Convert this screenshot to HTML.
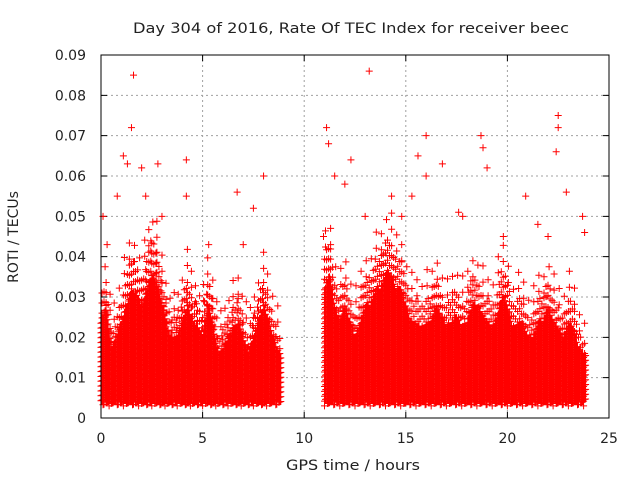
<!DOCTYPE html>
<html><head><meta charset="utf-8"><style>
body{margin:0;background:#fff}
svg{display:block;font-family:"DejaVu Sans","Liberation Sans",sans-serif}
</style></head><body>
<svg id="chart" width="640" height="480">
<rect width="640" height="480" fill="#fff"/>
<text x="351" y="33" font-size="14" text-anchor="middle" fill="#222" textLength="436" lengthAdjust="spacingAndGlyphs">Day 304 of 2016, Rate Of TEC Index for receiver beec</text>
<text x="353" y="470" font-size="14" text-anchor="middle" fill="#222" textLength="134" lengthAdjust="spacingAndGlyphs">GPS time / hours</text>
<text transform="translate(18,237) rotate(-90)" font-size="14" text-anchor="middle" fill="#222">ROTI / TECUs</text>
<g id="grid"></g>
<g id="axes"></g>
<path id="sparse" fill="none" stroke="#ff0000" stroke-width="1"/>
<path id="dense" fill="none" stroke="#ff0000" stroke-width="1"/>
<g id="outl"></g>
<rect x="101" y="55" width="508" height="363" fill="none" stroke="#000" stroke-width="1"/>
</svg>
<script>
const xTicks=[0,5,10,15,20,25];
const yTicks=[0,0.01,0.02,0.03,0.04,0.05,0.06,0.07,0.08,0.09];
const yTickLabels=["0","0.01","0.02","0.03","0.04","0.05","0.06","0.07","0.08","0.09"];
const segEnds=[8.9,23.9];
const binStart=[0,0.25,0.5,0.75,1,1.25,1.5,1.75,2,2.25,2.5,2.75,3,3.25,3.5,3.75,4,4.25,4.5,4.75,5,5.25,5.5,5.75,6,6.25,6.5,6.75,7,7.25,7.5,7.75,8,8.25,8.5,8.75,
11,11.25,11.5,11.75,12,12.25,12.5,12.75,13,13.25,13.5,13.75,14,14.25,14.5,14.75,15,15.25,15.5,15.75,16,16.25,16.5,16.75,17,17.25,17.5,17.75,18,18.25,18.5,18.75,19,19.25,19.5,19.75,20,20.25,20.5,20.75,21,21.25,21.5,21.75,22,22.25,22.5,22.75,23,23.25,23.5,23.75];
const binHigh=[0.03,0.035,0.022,0.025,0.03,0.035,0.04,0.038,0.035,0.04,0.045,0.042,0.035,0.028,0.025,0.025,0.03,0.035,0.03,0.028,0.025,0.035,0.03,0.02,0.022,0.025,0.028,0.03,0.025,0.02,0.025,0.03,0.035,0.03,0.025,0.02,
0.04,0.045,0.035,0.03,0.035,0.03,0.025,0.03,0.035,0.035,0.04,0.04,0.045,0.045,0.04,0.04,0.035,0.03,0.03,0.028,0.03,0.03,0.035,0.032,0.028,0.03,0.032,0.028,0.03,0.035,0.035,0.032,0.03,0.028,0.032,0.038,0.035,0.028,0.03,0.03,0.025,0.025,0.03,0.03,0.035,0.03,0.028,0.025,0.03,0.028,0.022,0.02];
const binLow=0.0042;
const outX=[1.6,1.5,1.1,1.3,2.0,2.8,4.2,4.2,6.7,7.5,8.0,7.0,0.1,0.8,11.1,11.2,11.5,12.3,13.2,13.0,14.3,15.6,16.0,16.0,16.8,17.6,18.7,18.8,19.0,20.9,22.5,22.5,22.4,22.9,23.7,23.8,14.8,15.3,21.5,22.0,5.3,3.0,2.2,0.3,12.0,17.8,19.8,10.95];
const outY=[0.085,0.072,0.065,0.063,0.062,0.063,0.064,0.055,0.056,0.052,0.06,0.043,0.05,0.055,0.072,0.068,0.06,0.064,0.086,0.05,0.055,0.065,0.07,0.06,0.063,0.051,0.07,0.067,0.062,0.055,0.075,0.072,0.066,0.056,0.05,0.046,0.05,0.055,0.048,0.045,0.043,0.05,0.055,0.043,0.058,0.05,0.045,0.045];

const X=v=>101+v*508/25, Y=v=>418-v*363/0.09;
const NS="http://www.w3.org/2000/svg";
const grid=document.getElementById('grid'), axes=document.getElementById('axes');
function mk(tag,attrs,parent){const e=document.createElementNS(NS,tag);for(const k in attrs)e.setAttribute(k,attrs[k]);parent.appendChild(e);return e;}
xTicks.forEach(t=>{
  const x=X(t);
  if(t>0&&t<25){const g=mk('line',{x1:x,y1:55,x2:x,y2:418,stroke:'#a0a0a0','stroke-dasharray':'2,3'},grid);
  
  }
  const tk=mk('path',{d:`M${x} 418v-6M${x} 55v6`,stroke:'#000'},axes);
  
  
  const l=mk('text',{x:x,y:443,'font-size':14,'text-anchor':'middle',fill:'#222'},axes);l.textContent=t;
  
  
});
yTicks.forEach((t,i)=>{
  const y=Y(t);
  if(i>0&&i<yTicks.length-1){const g=mk('line',{x1:101,y1:y,x2:609,y2:y,stroke:'#a0a0a0','stroke-dasharray':'2,3'},grid);
  
  }
  const tk=mk('path',{d:`M101 ${y}h6M609 ${y}h-6`,stroke:'#000'},axes);
  
  
  const l=mk('text',{x:86,y:y+5,'font-size':14,'text-anchor':'end',fill:'#222'},axes);l.textContent=yTickLabels[i];
  
  
});
function cross(x,y){return `M${(x-3.5).toFixed(1)} ${y.toFixed(1)}h7M${x.toFixed(1)} ${(y-3.5).toFixed(1)}v7`;}
let d='',ds='',col=0;
binStart.forEach((s,i)=>{
  const lim=s<9?segEnds[0]:segEnds[1];
  const e=Math.min(s+0.25,lim);
  const h0=binHigh[i], h1=i+1<binHigh.length&&binStart[i+1]-s<0.3?binHigh[i+1]:h0;
  for(let t=s;t<e;t+=0.05){
    col++;
    const h=h0+(h1-h0)*(t-s)/0.25;
    const lo=binLow-((col%5)*0.0003);
    for(let v=lo+(col%3)*0.0004;v<=h*0.8;v+=0.0012){d+=cross(X(t),Y(v));}
    if(col%2===0){for(let v=h*0.8+(col%5)*0.0006;v<=h;v+=0.0025){ds+=cross(X(t),Y(v));}}
    if(col%5===0){for(let v=h+(col%7)*0.0007;v<=h+0.007;v+=0.004){ds+=cross(X(t),Y(v));}}
  }
});
document.getElementById('dense').setAttribute('d',d);
document.getElementById('sparse').setAttribute('d',ds);
const og=document.getElementById('outl');
outX.forEach((t,i)=>{
  const x=X(t),y=Y(outY[i]);
  const p=mk('path',{d:`M${x-3.5} ${y}h7M${x} ${y-3.5}v7`,stroke:'#ff0000',fill:'none'},og);
  
  
});
</script>
</body></html>
